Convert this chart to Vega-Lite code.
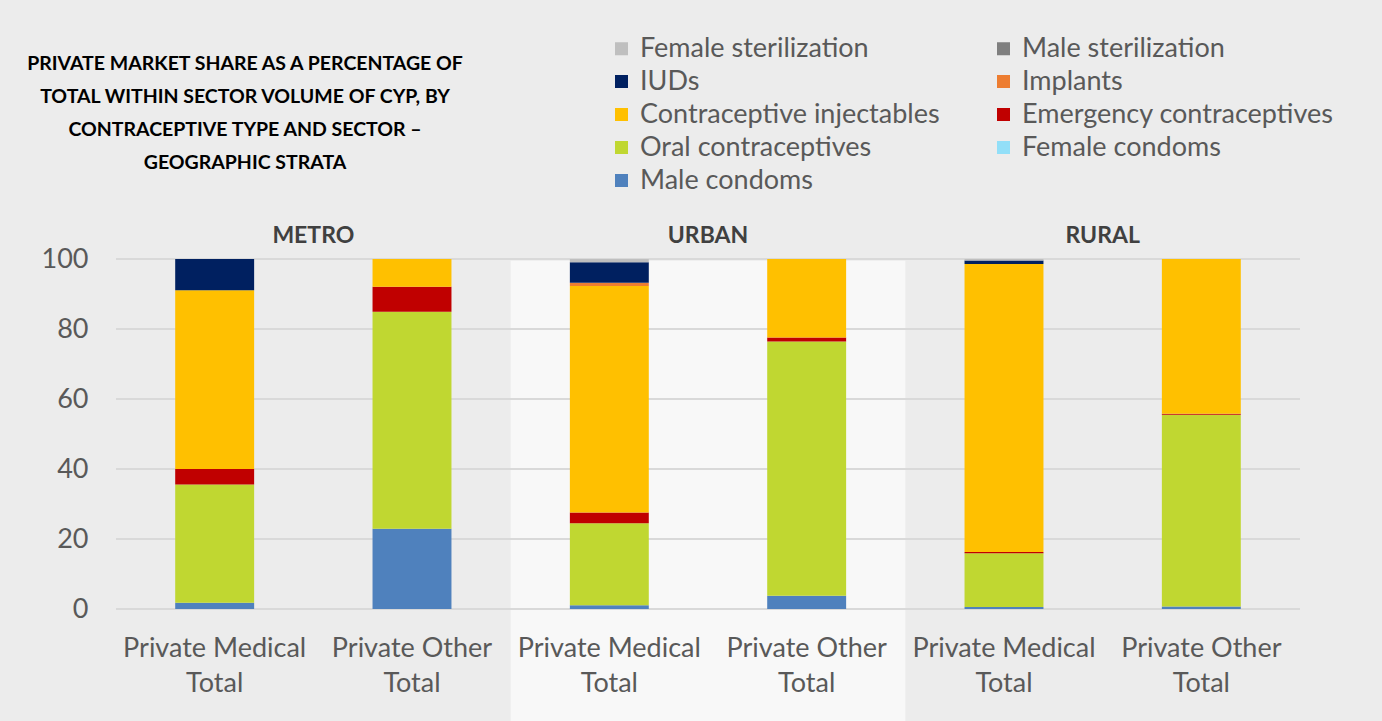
{
  "$schema": "https://vega.github.io/schema/vega-lite/v6.json",
  "width": 1184,
  "height": 350,
  "autosize": {"type": "none"},
  "padding": {"left": 116, "top": 259, "right": 82, "bottom": 112},
  "background": "#ECECEC",
  "config": {
    "view": {"stroke": null},
    "font": "Lato",
    "text": {"lineBreak": "\n"}
  },
  "title": {
    "text": ["PRIVATE MARKET SHARE AS A PERCENTAGE OF", "TOTAL WITHIN SECTOR VOLUME OF CYP, BY", "CONTRACEPTIVE TYPE AND SECTOR –", "GEOGRAPHIC STRATA"],
    "anchor": "start",
    "frame": "group",
    "align": "center",
    "dx": 129,
    "fontSize": 19.5,
    "fontWeight": "bold",
    "color": "#000000",
    "lineHeight": 33,
    "baseline": "top",
    "offset": -138
  },
  "datasets": {
    "shares": [
      {"stratum": "METRO", "sector": "Private Medical\nTotal", "method": "Male condoms", "value": 1.8},
      {"stratum": "METRO", "sector": "Private Medical\nTotal", "method": "Oral contraceptives", "value": 33.8},
      {"stratum": "METRO", "sector": "Private Medical\nTotal", "method": "Emergency contraceptives", "value": 4.4},
      {"stratum": "METRO", "sector": "Private Medical\nTotal", "method": "Contraceptive injectables", "value": 51.1},
      {"stratum": "METRO", "sector": "Private Medical\nTotal", "method": "IUDs", "value": 8.9},
      {"stratum": "METRO", "sector": "Private Other\nTotal", "method": "Male condoms", "value": 22.9},
      {"stratum": "METRO", "sector": "Private Other\nTotal", "method": "Oral contraceptives", "value": 62.0},
      {"stratum": "METRO", "sector": "Private Other\nTotal", "method": "Emergency contraceptives", "value": 7.2},
      {"stratum": "METRO", "sector": "Private Other\nTotal", "method": "Contraceptive injectables", "value": 7.9},
      {"stratum": "URBAN", "sector": "Private Medical\nTotal", "method": "Male condoms", "value": 1.1},
      {"stratum": "URBAN", "sector": "Private Medical\nTotal", "method": "Oral contraceptives", "value": 23.4},
      {"stratum": "URBAN", "sector": "Private Medical\nTotal", "method": "Emergency contraceptives", "value": 3.1},
      {"stratum": "URBAN", "sector": "Private Medical\nTotal", "method": "Contraceptive injectables", "value": 64.7},
      {"stratum": "URBAN", "sector": "Private Medical\nTotal", "method": "Implants", "value": 0.9},
      {"stratum": "URBAN", "sector": "Private Medical\nTotal", "method": "IUDs", "value": 5.9},
      {"stratum": "URBAN", "sector": "Private Medical\nTotal", "method": "Female sterilization", "value": 0.9},
      {"stratum": "URBAN", "sector": "Private Other\nTotal", "method": "Male condoms", "value": 3.8},
      {"stratum": "URBAN", "sector": "Private Other\nTotal", "method": "Oral contraceptives", "value": 72.6},
      {"stratum": "URBAN", "sector": "Private Other\nTotal", "method": "Emergency contraceptives", "value": 1.2},
      {"stratum": "URBAN", "sector": "Private Other\nTotal", "method": "Contraceptive injectables", "value": 22.4},
      {"stratum": "RURAL", "sector": "Private Medical\nTotal", "method": "Male condoms", "value": 0.6},
      {"stratum": "RURAL", "sector": "Private Medical\nTotal", "method": "Oral contraceptives", "value": 15.3},
      {"stratum": "RURAL", "sector": "Private Medical\nTotal", "method": "Emergency contraceptives", "value": 0.4},
      {"stratum": "RURAL", "sector": "Private Medical\nTotal", "method": "Contraceptive injectables", "value": 82.3},
      {"stratum": "RURAL", "sector": "Private Medical\nTotal", "method": "IUDs", "value": 1.0},
      {"stratum": "RURAL", "sector": "Private Medical\nTotal", "method": "Female sterilization", "value": 0.4},
      {"stratum": "RURAL", "sector": "Private Other\nTotal", "method": "Male condoms", "value": 0.7},
      {"stratum": "RURAL", "sector": "Private Other\nTotal", "method": "Oral contraceptives", "value": 54.8},
      {"stratum": "RURAL", "sector": "Private Other\nTotal", "method": "Emergency contraceptives", "value": 0.3},
      {"stratum": "RURAL", "sector": "Private Other\nTotal", "method": "Contraceptive injectables", "value": 44.2}
    ],
    "methods": [
      {"method": "Male condoms", "series": 1},
      {"method": "Female condoms", "series": 2},
      {"method": "Oral contraceptives", "series": 3},
      {"method": "Emergency contraceptives", "series": 4},
      {"method": "Contraceptive injectables", "series": 5},
      {"method": "Implants", "series": 6},
      {"method": "IUDs", "series": 7},
      {"method": "Male sterilization", "series": 8},
      {"method": "Female sterilization", "series": 9}
    ],
    "categories": [
      {"stratum": "METRO", "sector": "Private Medical\nTotal"},
      {"stratum": "METRO", "sector": "Private Other\nTotal"},
      {"stratum": "URBAN", "sector": "Private Medical\nTotal"},
      {"stratum": "URBAN", "sector": "Private Other\nTotal"},
      {"stratum": "RURAL", "sector": "Private Medical\nTotal"},
      {"stratum": "RURAL", "sector": "Private Other\nTotal"}
    ],
    "strata": [{"stratum": "METRO"}, {"stratum": "URBAN"}, {"stratum": "RURAL"}],
    "highlight": [{"stratum": "URBAN"}],
    "grid": [{"tick": 0}, {"tick": 20}, {"tick": 40}, {"tick": 60}, {"tick": 80}, {"tick": 100}]
  },
  "layer": [
    {
      "data": {"name": "highlight"},
      "mark": {"type": "rect", "color": "#F8F8F8", "clip": false},
      "encoding": {
        "x": {"field": "stratum", "type": "nominal", "sort": ["METRO", "URBAN", "RURAL"], "scale": {"domain": ["METRO", "URBAN", "RURAL"], "paddingInner": 0, "paddingOuter": 0}, "axis": null},
        "y": {"datum": 99.5, "type": "quantitative", "scale": {"domain": [0, 100]}},
        "y2": {"datum": -32.5}
      }
    },
    {
      "data": {"name": "grid"},
      "mark": {"type": "rule", "color": "#D9D9D9", "strokeWidth": 2},
      "encoding": {
        "y": {"field": "tick", "type": "quantitative"}
      }
    },
    {
      "data": {"name": "shares"},
      "transform": [
        {"lookup": "method", "from": {"data": {"name": "methods"}, "key": "method", "fields": ["series"]}}
      ],
      "mark": {"type": "bar"},
      "encoding": {
        "x": {"field": "stratum", "type": "nominal", "sort": ["METRO", "URBAN", "RURAL"], "axis": null},
        "xOffset": {
          "field": "sector",
          "type": "nominal",
          "sort": ["Private Medical\nTotal", "Private Other\nTotal"],
          "scale": {"paddingInner": 0.6, "paddingOuter": 0.3}
        },
        "y": {
          "field": "value",
          "type": "quantitative",
          "stack": "zero",
          "scale": {"domain": [0, 100], "nice": false},
          "axis": {
            "values": [0, 20, 40, 60, 80, 100],
            "grid": false,
            "domain": false,
            "ticks": false,
            "title": null,
            "labelFontSize": 27,
            "labelColor": "#595959",
            "labelPadding": 28,
            "labelFont": "Lato"
          }
        },
        "order": {"field": "series", "type": "quantitative", "sort": "ascending"},
        "color": {
          "field": "method",
          "type": "nominal",
          "scale": {
            "domain": ["Male condoms", "Female condoms", "Oral contraceptives", "Emergency contraceptives", "Contraceptive injectables", "Implants", "IUDs", "Male sterilization", "Female sterilization"],
            "range": ["#4F81BD", "#92DFF8", "#C0D731", "#C00000", "#FFC000", "#ED7D31", "#002060", "#7F7F7F", "#BFBFBF"]
          },
          "legend": {
            "values": ["Female sterilization", "IUDs", "Contraceptive injectables", "Oral contraceptives", "Male condoms", "Male sterilization", "Implants", "Emergency contraceptives", "Female condoms"],
            "title": null,
            "orient": "none",
            "legendX": 492,
            "legendY": -224,
            "columns": 2,
            "columnPadding": 50,
            "rowPadding": 5,
            "padding": 0,
            "symbolType": "square",
            "symbolSize": 169,
            "symbolStrokeWidth": 0,
            "labelFontSize": 27,
            "labelColor": "#595959",
            "labelFont": "Lato",
            "labelLimit": 500,
            "labelOffset": 5
          }
        }
      }
    },
    {
      "data": {"name": "categories"},
      "mark": {"type": "text", "baseline": "top", "dy": 27, "fontSize": 27, "color": "#595959", "lineHeight": 35, "font": "Lato"},
      "encoding": {
        "x": {"field": "stratum", "type": "nominal", "sort": ["METRO", "URBAN", "RURAL"], "axis": null},
        "xOffset": {"field": "sector", "type": "nominal", "sort": ["Private Medical\nTotal", "Private Other\nTotal"]},
        "y": {"datum": 0},
        "text": {"field": "sector"}
      }
    },
    {
      "data": {"name": "strata"},
      "mark": {"type": "text", "baseline": "middle", "dy": -23, "fontSize": 23, "fontWeight": "bold", "color": "#404040", "font": "Lato"},
      "encoding": {
        "x": {"field": "stratum", "type": "nominal", "sort": ["METRO", "URBAN", "RURAL"], "axis": null},
        "y": {"datum": 100},
        "text": {"field": "stratum"}
      }
    }
  ]
}
